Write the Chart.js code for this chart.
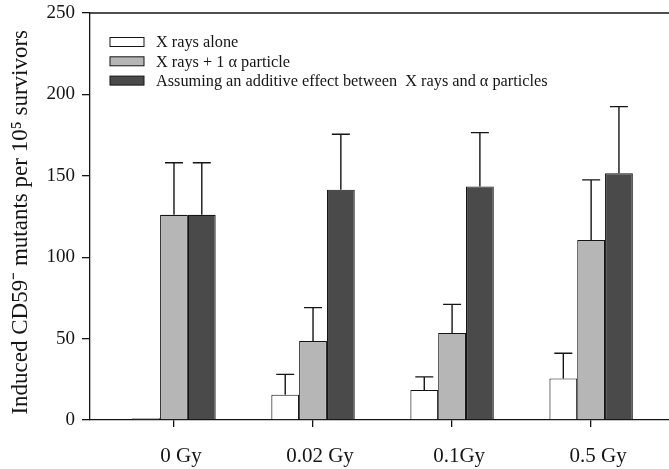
<!DOCTYPE html>
<html>
<head>
<meta charset="utf-8">
<script src="https://cdn.jsdelivr.net/npm/chart.js@4.4.1/dist/chart.umd.min.js"></script>
<style>
  html, body { margin: 0; padding: 0; background: #fff; overflow: hidden; }
  #wrap { width: 669px; height: 469px; }
</style>
</head>
<body>
<div id="wrap"><canvas id="mutantChart" width="669" height="469"></canvas></div>
<script>
// doses on the x axis
var categories = ['0 Gy', '0.02 Gy', '0.1Gy', '0.5 Gy'];
var seriesNames = ['X rays alone', 'X rays + 1 \u03b1 particle', 'Assuming an additive effect between  X rays and \u03b1 particles'];

// induced CD59- mutants per 10^5 survivors
var xRaysAlone = [1, 15.5, 18.5, 25.5];
var xRaysAlpha = [126, 48.5, 53.5, 110.5];
var additive = [126, 141.5, 143.5, 151.5];

// upper error bars (added on top of each bar)
var errAlone = [0, 12.5, 8, 15.5];
var errAlpha = [32, 20.5, 17.5, 37];
var errAdditive = [32, 34, 33, 41];

var yTicks = [0, 50, 100, 150, 200, 250];

var serif = "'Liberation Serif', 'Times New Roman', serif";
var ink = '#151515';

function toPoints(vals) {
    return vals.map(function (v, i) { return { x: i + 1, y: v }; });
}

// error bars: line up from the bar top with a small cap
var errorBars = {
    id: 'errorBars',
    afterDatasetsDraw: function (chart) {
        var ctx = chart.ctx;
        var yScale = chart.scales.y;
        ctx.save();
        ctx.strokeStyle = ink;
        ctx.lineWidth = 1.4;
        chart.data.datasets.forEach(function (ds, di) {
            var meta = chart.getDatasetMeta(di);
            meta.data.forEach(function (bar, i) {
                var e = ds.errors[i];
                if (!e) return;
                var yTop = yScale.getPixelForValue(ds.data[i].y + e);
                ctx.beginPath();
                ctx.moveTo(bar.x, bar.y);
                ctx.lineTo(bar.x, yTop);
                ctx.moveTo(bar.x - 9, yTop);
                ctx.lineTo(bar.x + 9, yTop);
                ctx.stroke();
            });
        });
        ctx.restore();
    }
};

// top frame line and the legend inside the plot
var frameAndLegend = {
    id: 'frameAndLegend',
    afterDraw: function (chart) {
        var ctx = chart.ctx;
        var a = chart.chartArea;
        ctx.save();
        ctx.strokeStyle = ink;
        ctx.lineWidth = 1.3;
        ctx.beginPath();
        ctx.moveTo(a.left, a.top);
        ctx.lineTo(a.right, a.top);
        ctx.stroke();

        ctx.font = '16.3px ' + serif;
        ctx.textBaseline = 'middle';
        ctx.textAlign = 'left';
        chart.data.datasets.forEach(function (ds, i) {
            var cy = a.top + 29 + i * 19.3;
            ctx.fillStyle = ds.backgroundColor;
            ctx.fillRect(a.left + 20, cy - 4.5, 34, 9);
            ctx.lineWidth = 1;
            ctx.strokeStyle = ink;
            ctx.strokeRect(a.left + 20, cy - 4.5, 34, 9);
            ctx.fillStyle = ink;
            ctx.fillText(ds.label, a.left + 66, cy + 1);
        });
        ctx.restore();
    }
};

var ctx1 = document.getElementById('mutantChart').getContext('2d');
var mutantChart = new Chart(ctx1, {
    type: 'bar',
    data: {
        datasets: [{
            label: seriesNames[0],
            data: toPoints(xRaysAlone),
            errors: errAlone,
            backgroundColor: '#ffffff',
            borderColor: ink,
            borderWidth: 1.1
        }, {
            label: seriesNames[1],
            data: toPoints(xRaysAlpha),
            errors: errAlpha,
            backgroundColor: '#b6b6b6',
            borderColor: ink,
            borderWidth: 1.1
        }, {
            label: seriesNames[2],
            data: toPoints(additive),
            errors: errAdditive,
            backgroundColor: '#4a4a4a',
            borderColor: ink,
            borderWidth: 1.1
        }]
    },
    options: {
        responsive: false,
        animation: false,
        categoryPercentage: 0.6,
        barPercentage: 1.0,
        layout: { padding: { top: 13, right: 0, bottom: 0, left: 0 } },
        plugins: {
            legend: { display: false },
            tooltip: { enabled: false }
        },
        scales: {
            x: {
                type: 'linear',
                min: 0.396,
                max: 4.56,
                offset: false,
                afterBuildTicks: function (scale) {
                    scale.ticks = categories.map(function (c, i) { return { value: i + 1 }; });
                },
                afterFit: function (scale) { scale.height = 49; },
                ticks: {
                    padding: 17,
                    labelOffset: 7,
                    color: ink,
                    font: { family: serif, size: 21 },
                    callback: function (v) { return categories[v - 1]; }
                },
                grid: {
                    offset: false,
                    drawOnChartArea: false,
                    tickLength: 7,
                    color: ink,
                    lineWidth: 1.3
                },
                border: { color: ink, width: 1.3 }
            },
            y: {
                min: 0,
                max: 250,
                afterBuildTicks: function (scale) {
                    scale.ticks = yTicks.map(function (v) { return { value: v }; });
                },
                afterFit: function (scale) {
                    scale.width = 90;
                    scale.paddingTop = 0;
                    scale.paddingBottom = 0;
                },
                ticks: {
                    padding: 7,
                    color: ink,
                    font: { family: serif, size: 19 }
                },
                grid: {
                    drawOnChartArea: false,
                    tickLength: 8,
                    color: ink,
                    lineWidth: 1.3
                },
                border: { color: ink, width: 1.3 },
                title: {
                    display: true,
                    // trailing spaces nudge the rotated title a little lower, as in the original
                    text: 'Induced CD59\u207b mutants per 10\u2075 survivors\u00a0\u00a0',
                    color: ink,
                    font: { family: serif, size: 23 },
                    padding: { top: 7, bottom: 0 }
                }
            }
        }
    },
    plugins: [errorBars, frameAndLegend]
});
</script>
</body>
</html>
